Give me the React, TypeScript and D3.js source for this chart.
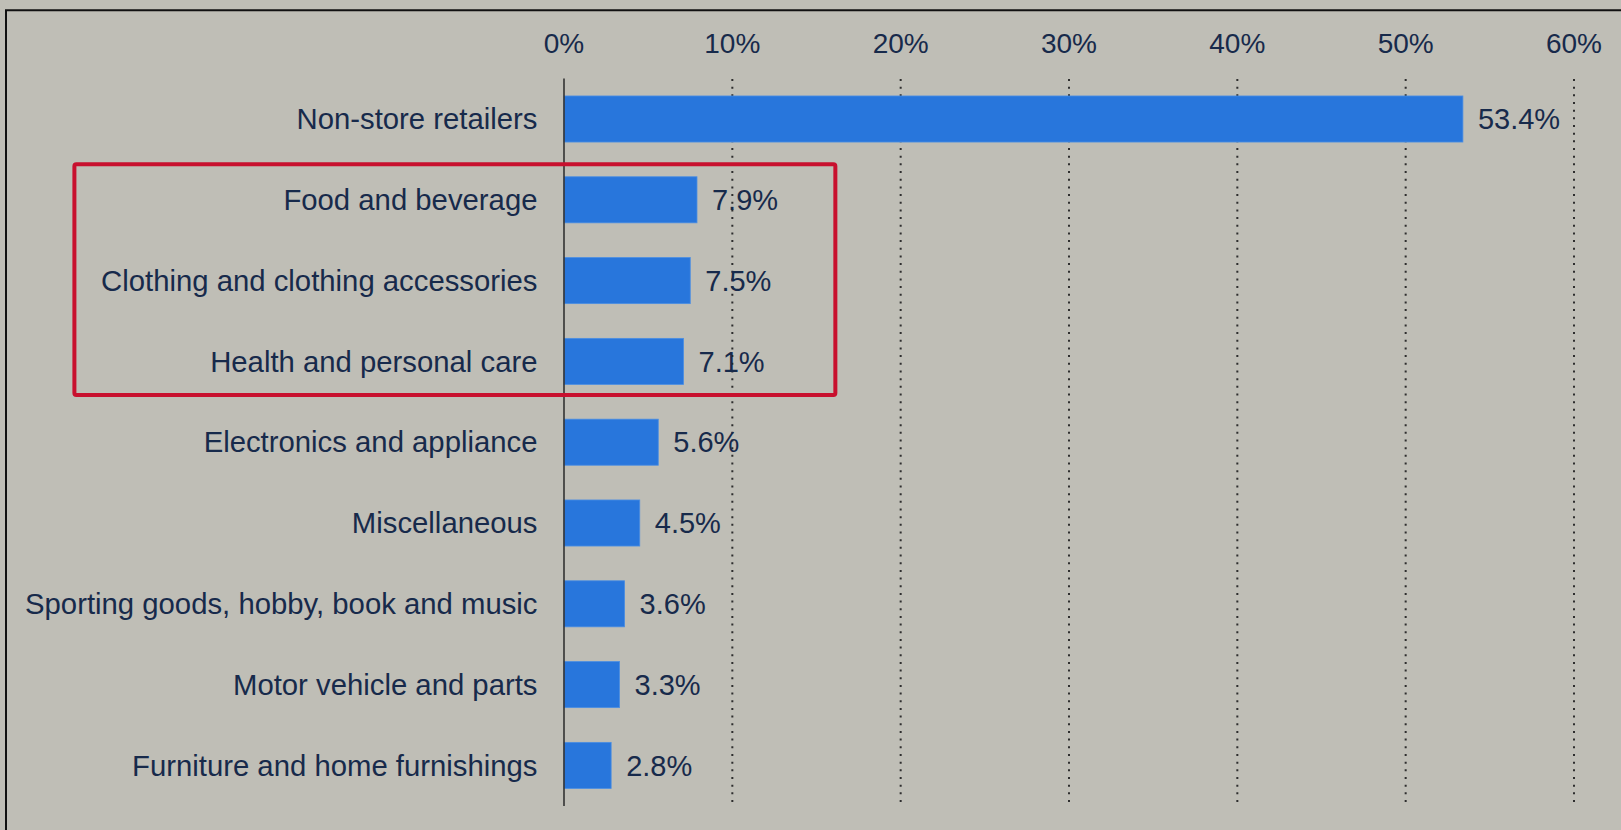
import React from "react";
import * as d3 from "d3";

const categories = [
  "Non-store retailers",
  "Food and beverage",
  "Clothing and clothing accessories",
  "Health and personal care",
  "Electronics and appliance",
  "Miscellaneous",
  "Sporting goods, hobby, book and music",
  "Motor vehicle and parts",
  "Furniture and home furnishings",
];
const values = [53.4, 7.9, 7.5, 7.1, 5.6, 4.5, 3.6, 3.3, 2.8];
const valueLabels = ["53.4%", "7.9%", "7.5%", "7.1%", "5.6%", "4.5%", "3.6%", "3.3%", "2.8%"];
const ticks = [0, 10, 20, 30, 40, 50, 60];
const tickLabels = ["0%", "10%", "20%", "30%", "40%", "50%", "60%"];
const highlighted = ["Food and beverage", "Clothing and clothing accessories", "Health and personal care"];

const W = 1621;
const H = 830;
const BG = "#bfbeb6";
const BAR = "#2876dc";
const TEXT = "#172a4b";
const RED = "#c8102e";
const FONT = "'Liberation Sans', Arial, Helvetica, sans-serif";

export default function App() {
  const x = d3.scaleLinear().domain([0, 60]).range([564, 1574]);
  const y = d3
    .scaleBand<string>()
    .domain(categories)
    .range([78.6, 805.8])
    .paddingInner(0.43)
    .paddingOuter(0.215);

  const yTop = y(highlighted[0])! - 12.5;
  const yBot = y(highlighted[highlighted.length - 1])! + y.bandwidth() + 10.5;
  const boxLeft = 74.4;
  const boxRight = x(16.12);

  return (
    <svg
      width={W}
      height={H}
      style={{ position: "absolute", left: 0, top: 0, display: "block", background: BG }}
      fontFamily={FONT}
    >
      <rect x={0} y={0} width={W} height={H} fill={BG} />
      {/* frame */}
      <line x1={5} x2={W} y1={10.3} y2={10.3} stroke="#111" strokeWidth={2} />
      <line x1={6} x2={6} y1={10.3} y2={H} stroke="#111" strokeWidth={2} />

      {/* grid lines */}
      {ticks.slice(1).map((t) => (
        <line
          key={"g" + t}
          x1={x(t)}
          x2={x(t)}
          y1={79}
          y2={806}
          stroke="#2e2e2e"
          strokeWidth={2}
          strokeDasharray="2 5.67"
        />
      ))}

      {/* tick labels */}
      {ticks.map((t, i) => (
        <text
          key={"t" + t}
          x={x(t)}
          y={52.5}
          textAnchor="middle"
          fontSize={28}
          fill={TEXT}
        >
          {tickLabels[i]}
        </text>
      ))}

      {/* bars */}
      {categories.map((c, i) => (
        <rect
          key={"b" + c}
          x={x(0)}
          y={y(c)!}
          width={x(values[i]) - x(0)}
          height={y.bandwidth()}
          fill={BAR}
          stroke="#4a8ee3"
          strokeWidth={0.8}
        />
      ))}

      {/* zero line */}
      <line x1={x(0)} x2={x(0)} y1={78.6} y2={806} stroke="#333" strokeWidth={1.6} />

      {/* category labels */}
      {categories.map((c) => (
        <text
          key={"l" + c}
          x={537.5}
          y={y(c)! + y.bandwidth() / 2}
          dy="0.35em"
          textAnchor="end"
          fontSize={29.3}
          fill={TEXT}
        >
          {c}
        </text>
      ))}

      {/* value labels */}
      {categories.map((c, i) => (
        <text
          key={"v" + c}
          x={x(values[i]) + 15}
          y={y(c)! + y.bandwidth() / 2}
          dy="0.35em"
          textAnchor="start"
          fontSize={29}
          fill={TEXT}
        >
          {valueLabels[i]}
        </text>
      ))}

      {/* highlight box */}
      <rect
        x={boxLeft}
        y={yTop}
        width={boxRight - boxLeft}
        height={yBot - yTop}
        fill="none"
        stroke={RED}
        strokeWidth={4}
        rx={2}
      />
    </svg>
  );
}
